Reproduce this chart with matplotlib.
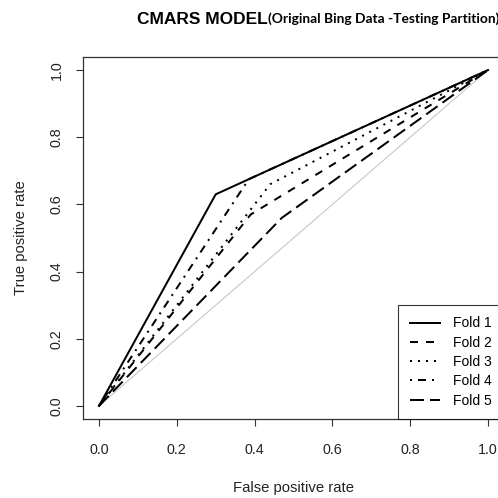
import matplotlib
matplotlib.use("Agg")
import matplotlib.pyplot as plt

plt.rcParams['font.family'] = ['Liberation Sans', 'DejaVu Sans']

# ROC points of each fold: (0,0) -> one cut-off point -> (1,1)
fold_names = ['Fold 1', 'Fold 2', 'Fold 3', 'Fold 4', 'Fold 5']
cut_fpr = [0.30, 0.39, 0.44, 0.385, 0.47]
cut_tpr = [0.63, 0.57, 0.66, 0.675, 0.56]
# R lty 1..5: solid, dashed, dotted, dotdash, longdash
fold_dashes = [None, (4, 4), (1, 3), (1, 3, 4, 3), (7, 3)]

ticks = [0.0, 0.2, 0.4, 0.6, 0.8, 1.0]
tick_labels = ['0.0', '0.2', '0.4', '0.6', '0.8', '1.0']

W = 498.0
fig = plt.figure(figsize=(4.98, 4.98), dpi=100)
# plot region runs a little past the right edge, as in the reference
ax = fig.add_axes([83.4 / W, 1 - 419.4 / W, 420.2 / W, 362.8 / W])

ax.plot([0, 1], [0, 1], color='#c8c8c8', lw=0.8, zorder=1)

for name, fx, ty, d in zip(fold_names, cut_fpr, cut_tpr, fold_dashes):
    line, = ax.plot([0, fx, 1], [0, ty, 1], color='black', lw=1.44,
                    label=name, zorder=2, solid_joinstyle='miter')
    if d is not None:
        line.set_dashes(d)

ax.set_xlim(-0.04, 1.04)
ax.set_ylim(-0.04, 1.04)
ax.set_xticks(ticks)
ax.set_xticklabels(tick_labels)
ax.set_yticks(ticks)
ax.set_yticklabels(tick_labels, rotation=90, va='center')

for s in ax.spines.values():
    s.set_color('#333333')
    s.set_linewidth(0.9)
ax.tick_params(length=5, width=0.8, color='#333333', labelsize=10.3,
               labelcolor='#222222')
ax.tick_params(axis='x', pad=12)
ax.tick_params(axis='y', pad=9)

ax.set_xlabel('False positive rate', fontsize=10.7, color='#222222', labelpad=17)
ax.set_ylabel('True positive rate', fontsize=10.7, color='#222222', labelpad=16)

leg = ax.legend(loc='lower right', fontsize=10, frameon=True, fancybox=False,
                borderaxespad=0, borderpad=0.85, handlelength=2.2,
                handletextpad=0.9, labelspacing=0.38)
leg.get_frame().set_edgecolor('black')
leg.get_frame().set_linewidth(0.8)

t1 = fig.text(137 / W, 1 - 19 / W, 'CMARS MODEL', fontsize=12.5,
              fontweight='bold', va='center', ha='left', color='black')
fig.canvas.draw()
bb = t1.get_window_extent()
fig.text(bb.x1 / fig.bbox.width, 1 - 19 / W,
         '(Original Bing Data -Testing Partition)', fontsize=9.9,
         fontweight='bold', family=['Lato', 'DejaVu Sans'],
         va='center', ha='left', color='black')

fig.savefig('out.png', dpi=100)
